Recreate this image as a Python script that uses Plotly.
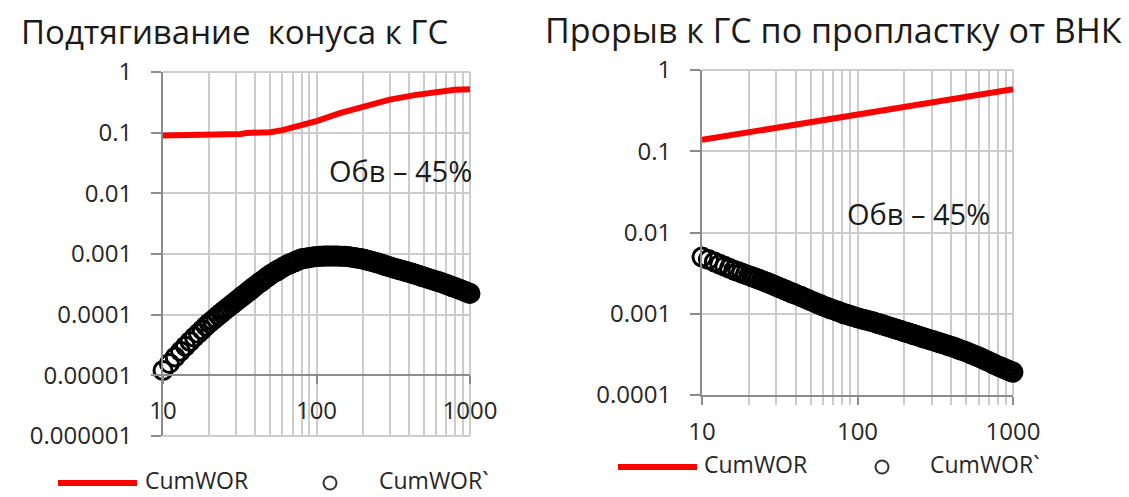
import plotly.graph_objects as go

W, H = 1129, 497

# Time steps shared by both point series
t = [10, 11, 12, 13, 14, 15, 16, 17, 18, 19,
     20, 21, 22, 23, 24, 25, 26, 27, 28, 29,
     30, 31, 32, 33, 34, 35, 36, 37, 38, 39,
     40, 42, 43, 44, 46, 48, 49, 51, 53, 55,
     56, 58, 60, 63, 65, 67, 69, 72, 74, 77,
     80, 82, 85, 88, 91, 94, 98, 101, 105, 108,
     112, 116, 120, 124, 129, 133, 138, 143, 148, 153,
     158, 164, 170, 176, 182, 188, 195, 202, 209, 216,
     224, 231, 240, 248, 257, 266, 275, 285, 295, 305,
     316, 327, 338, 350, 362, 375, 388, 402, 416, 430,
     445, 461, 477, 494, 511, 529, 548, 567, 587, 607,
     628, 650, 673, 697, 721, 746, 772, 799, 827, 856,
     886, 917, 949, 983, 1000]

# Left panel: water coning
cone_wor_x = [10, 30, 32, 35, 50, 60, 71, 85, 100, 142, 200, 300, 445, 660, 800, 1000]
cone_wor = [0.09, 0.09, 0.095, 0.099, 0.102, 0.11, 0.122, 0.138, 0.155, 0.21,
            0.265, 0.35, 0.42, 0.49, 0.51, 0.52]
cone_dwor = [1.20e-5, 1.57e-5, 2.00e-5, 2.49e-5, 3.02e-5, 3.61e-5, 4.27e-5, 4.92e-5, 5.65e-5, 6.46e-5,
             7.28e-5, 8.05e-5, 8.87e-5, 9.77e-5, 1.067e-4, 1.164e-4, 1.259e-4, 1.355e-4, 1.459e-4, 1.563e-4,
             1.675e-4, 1.786e-4, 1.905e-4, 2.03e-4, 2.15e-4, 2.28e-4, 2.41e-4, 2.55e-4, 2.69e-4, 2.83e-4,
             2.98e-4, 3.27e-4, 3.41e-4, 3.56e-4, 3.89e-4, 4.21e-4, 4.38e-4, 4.70e-4, 4.97e-4, 5.25e-4,
             5.40e-4, 5.68e-4, 5.98e-4, 6.43e-4, 6.67e-4, 6.90e-4, 7.13e-4, 7.46e-4, 7.69e-4, 8.03e-4,
             8.34e-4, 8.43e-4, 8.55e-4, 8.67e-4, 8.79e-4, 8.90e-4, 9.04e-4, 9.12e-4, 9.16e-4, 9.19e-4,
             9.23e-4, 9.25e-4, 9.29e-4, 9.31e-4, 9.31e-4, 9.29e-4, 9.25e-4, 9.21e-4, 9.19e-4, 9.15e-4,
             9.12e-4, 8.99e-4, 8.87e-4, 8.74e-4, 8.63e-4, 8.51e-4, 8.39e-4, 8.25e-4, 8.05e-4, 7.87e-4,
             7.67e-4, 7.50e-4, 7.31e-4, 7.15e-4, 6.95e-4, 6.76e-4, 6.59e-4, 6.40e-4, 6.22e-4, 6.07e-4,
             5.89e-4, 5.75e-4, 5.62e-4, 5.48e-4, 5.36e-4, 5.23e-4, 5.10e-4, 4.97e-4, 4.84e-4, 4.72e-4,
             4.59e-4, 4.46e-4, 4.34e-4, 4.22e-4, 4.11e-4, 4.00e-4, 3.88e-4, 3.78e-4, 3.67e-4, 3.58e-4,
             3.48e-4, 3.38e-4, 3.27e-4, 3.17e-4, 3.08e-4, 2.98e-4, 2.89e-4, 2.80e-4, 2.70e-4, 2.62e-4,
             2.53e-4, 2.44e-4, 2.36e-4, 2.28e-4, 2.24e-4]

# Right panel: breakthrough along a layer
layer_wor_x = [10, 20, 50, 100, 200, 500, 1000]
layer_wor = [0.138, 0.172, 0.229, 0.285, 0.355, 0.47, 0.58]
layer_dwor = [5.00e-3, 4.65e-3, 4.34e-3, 4.06e-3, 3.83e-3, 3.62e-3, 3.44e-3, 3.30e-3, 3.17e-3, 3.05e-3,
              2.94e-3, 2.85e-3, 2.76e-3, 2.67e-3, 2.59e-3, 2.52e-3, 2.44e-3, 2.37e-3, 2.30e-3, 2.24e-3,
              2.18e-3, 2.12e-3, 2.07e-3, 2.02e-3, 1.97e-3, 1.93e-3, 1.88e-3, 1.84e-3, 1.80e-3, 1.77e-3,
              1.73e-3, 1.67e-3, 1.64e-3, 1.61e-3, 1.55e-3, 1.50e-3, 1.47e-3, 1.43e-3, 1.38e-3, 1.34e-3,
              1.32e-3, 1.29e-3, 1.25e-3, 1.21e-3, 1.18e-3, 1.15e-3, 1.13e-3, 1.10e-3, 1.08e-3, 1.05e-3,
              1.02e-3, 1.00e-3, 9.84e-4, 9.63e-4, 9.44e-4, 9.25e-4, 9.02e-4, 8.87e-4, 8.70e-4, 8.58e-4,
              8.42e-4, 8.28e-4, 8.13e-4, 8.00e-4, 7.82e-4, 7.69e-4, 7.52e-4, 7.36e-4, 7.21e-4, 7.06e-4,
              6.93e-4, 6.78e-4, 6.64e-4, 6.49e-4, 6.37e-4, 6.25e-4, 6.11e-4, 5.98e-4, 5.86e-4, 5.75e-4,
              5.62e-4, 5.52e-4, 5.40e-4, 5.30e-4, 5.18e-4, 5.07e-4, 4.97e-4, 4.86e-4, 4.76e-4, 4.67e-4,
              4.57e-4, 4.48e-4, 4.39e-4, 4.30e-4, 4.21e-4, 4.13e-4, 4.04e-4, 3.95e-4, 3.86e-4, 3.78e-4,
              3.68e-4, 3.59e-4, 3.51e-4, 3.42e-4, 3.34e-4, 3.25e-4, 3.15e-4, 3.07e-4, 2.99e-4, 2.91e-4,
              2.83e-4, 2.74e-4, 2.66e-4, 2.58e-4, 2.50e-4, 2.42e-4, 2.35e-4, 2.28e-4, 2.22e-4, 2.16e-4,
              2.10e-4, 2.04e-4, 1.99e-4, 1.93e-4, 1.91e-4]

assert len(t) == len(cone_dwor) == len(layer_dwor)

x_major = [10, 100, 1000]
x_major_text = ["10", "100", "1000"]
x_minor = [20, 30, 40, 50, 60, 70, 80, 90, 200, 300, 400, 500, 600, 700, 800, 900]
y_left_vals = [1e-6, 1e-5, 1e-4, 1e-3, 1e-2, 1e-1, 1]
y_left_text = ["0.000001", "0.00001", "0.0001", "0.001", "0.01", "0.1", "1"]
y_right_vals = [1e-4, 1e-3, 1e-2, 1e-1, 1]
y_right_text = ["0.0001", "0.001", "0.01", "0.1", "1"]

titles = ["Подтягивание  конуса к ГС", "Прорыв к ГС по пропластку от ВНК"]
note = "Обв – 45%"
names = ["CumWOR", "CumWOR`"]

FONT = "Open Sans"
TXT = "#262626"
GRID = "#cccccc"
AXIS = "#8c8c8c"
RED = "#ff0000"


def px(x):
    return x / W


def py(y):
    return (H - y) / H


fig = go.Figure()

ring = dict(symbol="circle-open", size=18, color="black", line=dict(width=3))

fig.add_trace(go.Scatter(x=cone_wor_x, y=cone_wor, mode="lines", name=names[0],
                         line=dict(color=RED, width=6), xaxis="x", yaxis="y",
                         showlegend=False))
fig.add_trace(go.Scatter(x=t, y=cone_dwor, mode="markers", name=names[1],
                         marker=ring, xaxis="x", yaxis="y", cliponaxis=False,
                         showlegend=False))
fig.add_trace(go.Scatter(x=layer_wor_x, y=layer_wor, mode="lines", name=names[0],
                         line=dict(color=RED, width=6), xaxis="x2", yaxis="y2",
                         showlegend=False))
fig.add_trace(go.Scatter(x=t, y=layer_dwor, mode="markers", name=names[1],
                         marker=ring, xaxis="x2", yaxis="y2", cliponaxis=False,
                         showlegend=False))


def xaxis_cfg(domain, anchor, position=None):
    d = dict(type="log", range=[1, 3], domain=domain, anchor=anchor,
             automargin=False,
             tickmode="array", tickvals=x_major, ticktext=x_major_text,
             showgrid=True, gridcolor=GRID, gridwidth=2,
             showline=True, linecolor=AXIS, linewidth=2,
             ticks="outside", ticklen=8, tickwidth=2, tickcolor=AXIS,
             ticklabelstandoff=6,
             minor=dict(tickmode="array", tickvals=x_minor, showgrid=True,
                        gridcolor=GRID, gridwidth=2, ticks="outside",
                        ticklen=8, tickwidth=2, tickcolor=GRID),
             tickfont=dict(family=FONT, size=24, color=TXT),
             zeroline=False, fixedrange=True)
    if position is not None:
        d["position"] = position
    return d


def yaxis_cfg(domain, anchor, rng, vals, text):
    return dict(type="log", range=rng, domain=domain, anchor=anchor,
                automargin=False,
                tickmode="array", tickvals=vals, ticktext=text,
                showgrid=True, gridcolor=GRID, gridwidth=2,
                showline=True, linecolor=AXIS, linewidth=2,
                ticks="outside", ticklen=10, tickwidth=2, tickcolor=AXIS,
                ticklabelstandoff=14,
                tickfont=dict(family=FONT, size=24, color=TXT),
                zeroline=False, fixedrange=True)


fig.update_layout(
    width=W, height=H, autosize=False,
    margin=dict(l=0, r=0, t=0, b=0, pad=0, autoexpand=False),
    paper_bgcolor="white", plot_bgcolor="white",
    showlegend=False,
    xaxis=xaxis_cfg([px(163), px(470)], "free", position=py(375)),
    yaxis=yaxis_cfg([py(436), py(72)], "x", [-6, 0], y_left_vals, y_left_text),
    xaxis2=xaxis_cfg([px(702), px(1013)], "y2"),
    yaxis2=yaxis_cfg([py(395), py(70)], "x2", [-4, 0], y_right_vals, y_right_text),
)

ann = []
ann.append(dict(text=titles[0], x=px(234), y=py(32), xref="paper", yref="paper",
                xanchor="center", yanchor="middle", showarrow=False,
                font=dict(family=FONT, size=33, color="#1a1a1a")))
ann.append(dict(text=titles[1], x=px(833), y=py(30), xref="paper", yref="paper",
                xanchor="center", yanchor="middle", showarrow=False,
                font=dict(family=FONT, size=34, color="#1a1a1a")))
ann.append(dict(text=note, x=px(400), y=py(170), xref="paper", yref="paper",
                xanchor="center", yanchor="middle", showarrow=False,
                font=dict(family=FONT, size=29, color="#1a1a1a")))
ann.append(dict(text=note, x=px(918), y=py(213), xref="paper", yref="paper",
                xanchor="center", yanchor="middle", showarrow=False,
                font=dict(family=FONT, size=29, color="#1a1a1a")))

shapes = []

# Light frame on the plot-area edges that carry no axis line
frame = dict(type="line", line=dict(color=GRID, width=2), layer="below")
shapes.append(dict(frame, xref="x domain", yref="y domain", x0=0, x1=1, y0=1, y1=1))
shapes.append(dict(frame, xref="x domain", yref="y domain", x0=0, x1=1, y0=0, y1=0))
shapes.append(dict(frame, xref="x domain", yref="y domain", x0=1, x1=1, y0=0, y1=1))
shapes.append(dict(frame, xref="x2 domain", yref="y2 domain", x0=0, x1=1, y0=1, y1=1))
shapes.append(dict(frame, xref="x2 domain", yref="y2 domain", x0=1, x1=1, y0=0, y1=1))

# Legend rows drawn under each panel
legend_rows = [
    dict(line=(58, 137), y=483, text1=143, circle=330, text2=377),
    dict(line=(618, 697), y=467, text1=702, circle=882, text2=928),
]
for row in legend_rows:
    y = row["y"]
    shapes.append(dict(type="line", xref="paper", yref="paper",
                       x0=px(row["line"][0]), x1=px(row["line"][1]),
                       y0=py(y), y1=py(y), line=dict(color=RED, width=6)))
    r = 6.5
    shapes.append(dict(type="circle", xref="paper", yref="paper",
                       x0=px(row["circle"] - r), x1=px(row["circle"] + r),
                       y0=py(y + r), y1=py(y - r),
                       line=dict(color="#333333", width=2)))
    ann.append(dict(text=names[0], x=px(row["text1"]), y=py(y - 3), xref="paper", yref="paper",
                    xanchor="left", yanchor="middle", showarrow=False,
                    font=dict(family=FONT, size=23, color=TXT)))
    ann.append(dict(text=names[1], x=px(row["text2"]), y=py(y - 3), xref="paper", yref="paper",
                    xanchor="left", yanchor="middle", showarrow=False,
                    font=dict(family=FONT, size=23, color=TXT)))

fig.update_layout(annotations=ann, shapes=shapes)

fig.write_html("out.html")
